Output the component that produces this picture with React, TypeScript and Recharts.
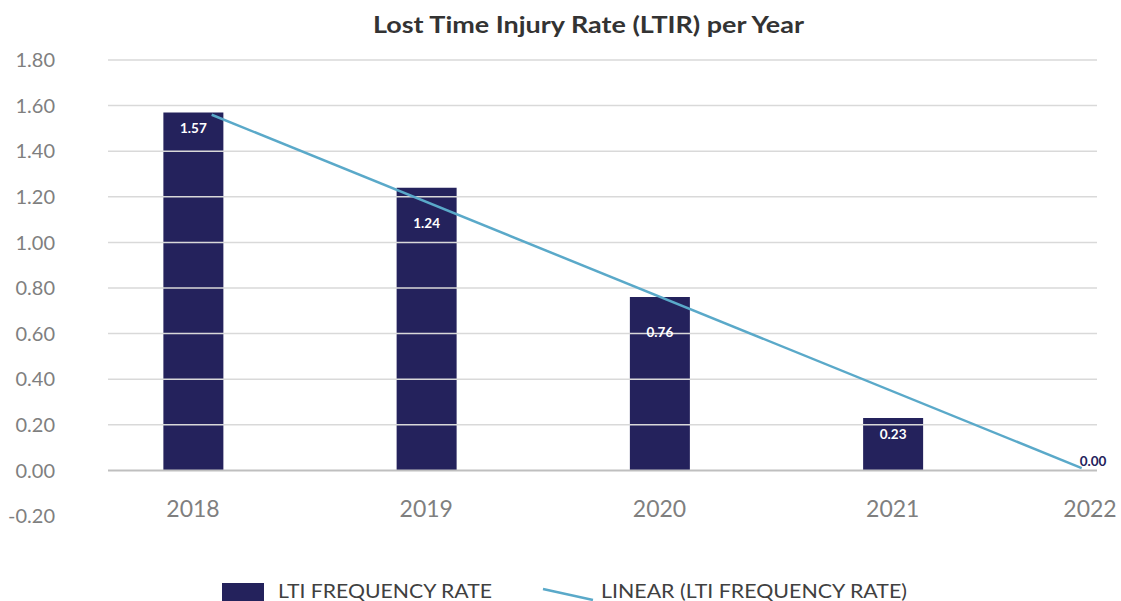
import React from "react";
import {
  ComposedChart,
  Bar,
  Line,
  XAxis,
  YAxis,
  ReferenceLine,
  ReferenceDot,
  LabelList,
} from "recharts";

const years = [2018, 2019, 2020, 2021, 2022];
const ltiRates = [1.57, 1.24, 0.76, 0.23, 0.0];
const trendYears = [2018.08, 2021.81];
const trendValues = [1.56, 0.01];
const yTicks = [-0.2, 0, 0.2, 0.4, 0.6, 0.8, 1.0, 1.2, 1.4, 1.6, 1.8];
const gridValues = [0.2, 0.4, 0.6, 0.8, 1.0, 1.2, 1.4, 1.6, 1.8];

const TITLE = "Lost Time Injury Rate (LTIR) per Year";
const BAR_NAME = "LTI FREQUENCY RATE";
const TREND_NAME = "LINEAR (LTI FREQUENCY RATE)";

const NAVY = "#24225c";
const BLUE = "#5aa9c9";
const FONT = "Lato, 'Open Sans', sans-serif";

const barData = years.map((year, i) => ({ year, rate: ltiRates[i] }));
const trendData = trendYears.map((year, i) => ({ year, trend: trendValues[i] }));

const W = 1121;
const H = 601;
const X_DOMAIN: [number, number] = [2018, 2022];
const X_PADDING = { left: 85, right: -29 };
const Y_DOMAIN: [number, number] = [-0.2, 1.8];

// pixel mapping mirrors the chart's layout (plot top 60, height 456)
const PLOT_TOP = 60;
const PLOT_H = 456;
const valueToPx = (v: number) =>
  PLOT_TOP + ((Y_DOMAIN[1] - v) / (Y_DOMAIN[1] - Y_DOMAIN[0])) * PLOT_H;

const trendAt = (year: number) => {
  const [x0, x1] = trendYears;
  const [y0, y1] = trendValues;
  return y0 + ((year - x0) / (x1 - x0)) * (y1 - y0);
};

const YTick = (props: any) => {
  const { y, payload } = props;
  return (
    <text
      x={55}
      y={y}
      dy="0.36em"
      textAnchor="end"
      fill="#7f7f7f"
      fontSize={20}
      fontFamily={FONT}
    >
      {Number(payload.value).toFixed(2)}
    </text>
  );
};

const XTick = (props: any) => {
  const { x, payload } = props;
  const cx = Math.min(Number(x), 1090);
  return (
    <text
      x={cx}
      y={516.5}
      textAnchor="middle"
      fill="#7f7f7f"
      fontSize={23}
      fontFamily={FONT}
    >
      {String(payload.value)}
    </text>
  );
};

const BarLabel = (props: any) => {
  const { x, y, width, value, index } = props;
  const v = Number(value);
  if (v === 0) return null;
  const cx = Number(x) + Number(width) / 2;
  const top = Number(y);
  let ly = top + 16;
  const lineY = valueToPx(trendAt(years[index]));
  if (Math.abs(lineY - ly) < 18) ly = top + 35.5;
  return (
    <text
      x={cx}
      y={ly}
      dy="0.35em"
      textAnchor="middle"
      fill="#ffffff"
      fontSize={13.5}
      fontWeight={700}
      fontFamily={FONT}
    >
      {v.toFixed(2)}
    </text>
  );
};

const ZeroLabel = (props: any) => {
  const vb = props.viewBox || {};
  const cx = Math.min(Number(vb.x) + Number(vb.width || 0) / 2, 1093);
  const cy = Number(vb.y) + Number(vb.height || 0) / 2;
  return (
    <text
      x={cx}
      y={cy - 9}
      dy="0.35em"
      textAnchor="middle"
      fill={NAVY}
      fontSize={13.5}
      fontWeight={700}
      fontFamily={FONT}
    >
      {ltiRates[4].toFixed(2)}
    </text>
  );
};

export default function App() {
  return (
    <div
      style={{
        position: "absolute",
        left: 0,
        top: 0,
        width: W,
        height: H,
        background: "#ffffff",
        overflow: "hidden",
        fontFamily: FONT,
      }}
    >
      <ComposedChart
        width={W}
        height={H}
        data={barData}
        margin={{ top: PLOT_TOP, right: 24, left: 0, bottom: 0 }}
      >
        <XAxis
          type="number"
          dataKey="year"
          domain={X_DOMAIN}
          padding={X_PADDING}
          ticks={years}
          interval={0}
          axisLine={false}
          tickLine={false}
          height={85}
          tick={<XTick />}
        />
        <XAxis
          xAxisId="trend"
          type="number"
          dataKey="year"
          domain={X_DOMAIN}
          padding={X_PADDING}
          hide
        />
        <YAxis
          type="number"
          domain={Y_DOMAIN}
          ticks={yTicks}
          interval={0}
          axisLine={false}
          tickLine={false}
          width={108}
          tick={<YTick />}
        />
        {gridValues.map((v) => (
          <ReferenceLine key={v} y={v} stroke="#d9d9d9" strokeWidth={1.5} />
        ))}
        <ReferenceLine y={0} stroke="#bfbfbf" strokeWidth={2} />
        <Bar
          dataKey="rate"
          name={BAR_NAME}
          fill={NAVY}
          barSize={60}
          isAnimationActive={false}
        >
          <LabelList dataKey="rate" content={<BarLabel />} />
        </Bar>
        <Line
          xAxisId="trend"
          data={trendData}
          dataKey="trend"
          name={TREND_NAME}
          stroke={BLUE}
          strokeWidth={2.5}
          dot={false}
          activeDot={false}
          isAnimationActive={false}
        />
        <ReferenceDot
          x={years[4]}
          y={ltiRates[4]}
          r={0}
          fill="none"
          stroke="none"
          ifOverflow="visible"
          label={<ZeroLabel />}
        />
      </ComposedChart>
      <svg
        width={W}
        height={H}
        style={{ position: "absolute", left: 0, top: 0, pointerEvents: "none" }}
      >
        <text
          x={373}
          y={32.5}
          textLength={431}
          lengthAdjust="spacingAndGlyphs"
          fill="#333333"
          fontSize={23}
          fontWeight={700}
          fontFamily={FONT}
        >
          {TITLE}
        </text>
        <rect x={222} y={583} width={42} height={22} fill={NAVY} />
        <text
          x={278}
          y={598}
          textLength={214}
          lengthAdjust="spacingAndGlyphs"
          fill="#404040"
          fontSize={20}
          fontFamily={FONT}
        >
          {BAR_NAME}
        </text>
        <line x1={543} y1={589} x2={593} y2={600} stroke={BLUE} strokeWidth={2.5} />
        <text
          x={601}
          y={598}
          textLength={306}
          lengthAdjust="spacingAndGlyphs"
          fill="#404040"
          fontSize={20}
          fontFamily={FONT}
        >
          {TREND_NAME}
        </text>
      </svg>
    </div>
  );
}
